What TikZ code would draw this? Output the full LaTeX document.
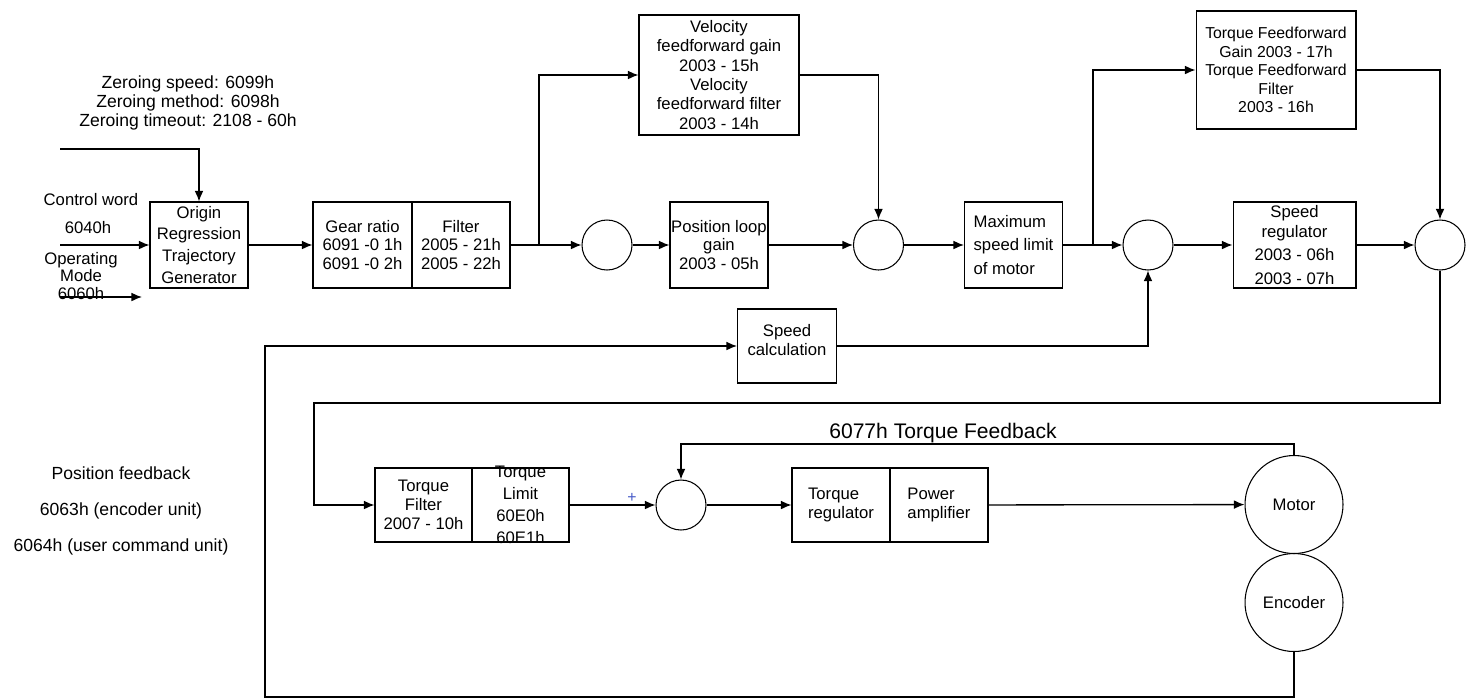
\documentclass[tikz,border=0pt]{standalone}
\usepackage{fontspec}
\setmainfont{Liberation Sans}
\usetikzlibrary{arrows.meta}
\definecolor{plusblue}{RGB}{70,90,200}

\begin{document}
\begin{tikzpicture}[x=0.02cm,y=-0.02cm]
\tikzstyle{every node}=[font=\fontsize{9.5}{10.8}\selectfont, align=center, inner sep=0pt];
\tikzstyle{block}=[draw, line width=0.6pt, minimum width=1.96cm, minimum height=1.72cm];
\tikzstyle{lowblock}=[block, minimum height=1.48cm];
\tikzstyle{sumpt}=[draw, circle, line width=0.6pt, minimum size=1cm];
\tikzstyle{drive}=[draw, circle, line width=0.6pt, minimum size=1.96cm];
\tikzstyle{wire}=[->, >={Latex[length=6pt,width=5pt]}, line width=0.75pt];
\useasboundingbox (0,0) rectangle (1466,698);

% inputs on the left
\node[font=\fontsize{10}{11}\selectfont] (zeroing) at (188,103) {Zeroing speed: 6099h\\Zeroing method: 6098h\\Zeroing timeout: 2108 - 60h};
\node (ctrlword) at (91,200) {Control word};
\node (ctrlhex) at (88,228) {6040h};
\node[font=\fontsize{9.5}{10}\selectfont] (opmode) at (81,276) {Operating\\Mode\\6060h};
\coordinate (zin) at (60,149);
\coordinate (cwin) at (60,245);
\coordinate (omin) at (60,297);
\coordinate (omout) at (142,297);

% position and speed loop
\node[block, font=\fontsize{9.5}{12.5}\selectfont] (origin) at (199,245) {Origin\\Regression\\Trajectory\\Generator};
\node[block, minimum width=1.98cm] (gear) at (362.5,245) {Gear ratio\\6091 -0 1h\\6091 -0 2h};
\node[block] (gfilt) at (461,245) {Filter\\2005 - 21h\\2005 - 22h};
\node[block, minimum width=3.2cm, minimum height=2.4cm, font=\fontsize{9.5}{11}\selectfont] (velff) at (719,75) {Velocity\\feedforward gain\\2003 - 15h\\Velocity\\feedforward filter\\2003 - 14h};
\node[sumpt] (sum1) at (607,245) {};
\node[block] (posgain) at (719,245) {Position loop\\gain\\2003 - 05h};
\node[sumpt] (sum2) at (878.5,245) {};
\node[block, align=left, font=\fontsize{9.5}{13.3}\selectfont] (maxspd) at (1013.5,245) {Maximum\\speed limit\\of motor};
\node[sumpt] (sum3) at (1148,245) {};
\node[block, minimum width=3.2cm, minimum height=2.36cm, font=\fontsize{9}{10.5}\selectfont] (tqff) at (1276,70) {Torque Feedforward\\Gain 2003 - 17h\\Torque Feedforward\\Filter\\2003 - 16h};
\node[block, minimum width=2.46cm, font=\fontsize{9.5}{11.3}\selectfont] (spdreg) at (1294.5,245) {Speed\\regulator\\[2.3pt]2003 - 06h\\[2.3pt]2003 - 07h};
\node[sumpt] (sum4) at (1440,245) {};
\node[lowblock, minimum width=1.98cm] (spdcalc) at (787,346) {};
\node (spdcalctext) at (787,340) {Speed\\calculation};

% torque loop
\node[lowblock, minimum width=1.94cm] (tfilt) at (423.5,505) {Torque\\Filter\\2007 - 10h};
\node[lowblock, minimum width=1.94cm] (tlim) at (520.5,505) {};
\node[font=\fontsize{9.5}{12.5}\selectfont] (tlimtext) at (tlim.center) {Torque\\Limit\\60E0h\\60E1h};
\node[sumpt] (sum5) at (681,505) {};
\node[text=plusblue, font=\fontsize{9}{9}\selectfont] (plus) at (632,498) {+};
\node[lowblock, align=left, font=\fontsize{9.5}{11.3}\selectfont] (tqreg) at (841,505) {Torque\\regulator};
\node[lowblock, align=left, font=\fontsize{9.5}{11.3}\selectfont] (pamp) at (939,505) {Power\\amplifier};
\node[drive] (motor) at (1294,504.5) {Motor};
\node[drive] (encoder) at (1294,602.5) {Encoder};
\node[font=\fontsize{12}{12}\selectfont] (tqfb) at (943,433.5) {6077h Torque Feedback};
\node[font=\fontsize{10}{20.7}\selectfont] (posfb) at (121,511) {Position feedback\\6063h (encoder unit)\\6064h (user command unit)};

\coordinate (vbr) at (539,245);
\coordinate (tbr) at (1093,245);
\coordinate (tqturn) at (314,403);
\coordinate (fbturn) at (265,697);
\coordinate (tqfbturn) at (681,444);

\draw[wire] (zin) -| (origin);
\draw[wire] (cwin) -- (origin);
\draw[wire] (omin) -- (omout);
\foreach \from/\to in {origin/gear, gfilt/sum1, sum1/posgain, posgain/sum2, sum2/maxspd, maxspd/sum3, sum3/spdreg, spdreg/sum4, tlim/sum5, sum5/tqreg, pamp/motor}
    \draw[wire] (\from) -- (\to);
\draw[wire] (vbr) |- (velff);
\draw[wire] (velff) -| (sum2);
\draw[wire] (tbr) |- (tqff);
\draw[wire] (tqff) -| (sum4);
\draw[wire] (sum4) |- (tqturn) |- (tfilt);
\draw[wire] (encoder) |- (fbturn) |- (spdcalc);
\draw[wire] (spdcalc) -| (sum3);
\draw[wire] (motor) |- (tqfbturn) -- (sum5);
\end{tikzpicture}
\end{document}
